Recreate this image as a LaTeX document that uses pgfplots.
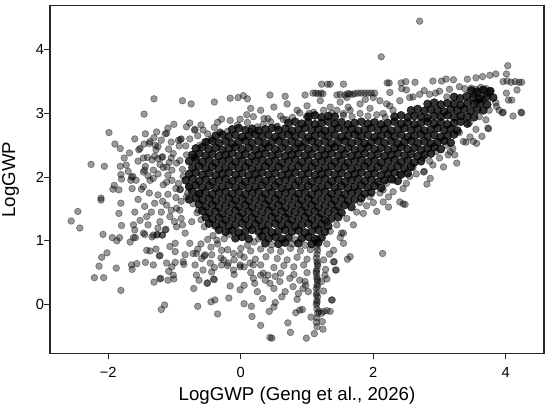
\documentclass[border=0pt]{standalone}
\usepackage{pgfplots}
\pgfplotsset{compat=1.18}
\usepackage{fontspec}
\setmainfont{Liberation Sans}
\begin{document}
\begin{tikzpicture}
\path[use as bounding box] (-37.5pt,-41.5pt) rectangle (375pt,265.3pt);
\begin{axis}[
  at={(0pt,0pt)}, anchor=south west,
  scale only axis, width=370.5pt, height=261pt,
  xmin=-2.88, xmax=4.577, ymin=-0.775, ymax=4.693,
  axis line style={black!85, line width=0.8pt},
  xtick={-2,0,2,4}, xticklabels={−2,0,2,4},
  ytick={0,1,2,3,4}, yticklabels={{0\hspace{6pt}},{1\hspace{6pt}},{2\hspace{6pt}},{3\hspace{6pt}},{4\hspace{6pt}}},
  tick align=outside, tick pos=left,
  major tick length=4.3pt,
  every tick/.style={black!85, line width=0.8pt},
  tick label style={font=\fontsize{11}{13}\selectfont, inner sep=0pt},
  xticklabel shift=5.4pt,
  xlabel={LogGWP (Geng et al., 2026)}, ylabel={LogGWP},
  label style={font=\fontsize{14}{16}\selectfont},
  xlabel style={at={(axis description cs:0.5,0)}, anchor=north, yshift=-24.6pt, inner sep=0pt},
  ylabel style={at={(axis description cs:-0.0621,0.5)}, anchor=south, inner sep=0pt},
]
\addplot[only marks, mark=*, mark size=3.05pt, mark options={draw=black, fill=black, draw opacity=0.8, fill opacity=0.8, line width=0.4pt}] coordinates {
(3.48,3.36)(3.57,3.34)(3.66,3.37)(3.76,3.35)
(3.22,3.26)(3.31,3.24)(3.41,3.27)(3.51,3.25)(3.61,3.23)(3.71,3.26)(3.81,3.25)
(2.82,3.15)(2.92,3.17)(3.02,3.14)(3.12,3.16)(3.22,3.15)(3.32,3.13)(3.42,3.16)(3.52,3.15)(3.62,3.17)(3.72,3.14)
(2.57,3.05)(2.67,3.07)(2.77,3.04)(2.87,3.06)(2.97,3.05)(3.07,3.03)(3.17,3.06)(3.27,3.05)(3.37,3.07)(3.47,3.04)(3.57,3.06)(3.66,3.05)
(1.02,2.95)(1.12,2.97)(1.22,2.94)(1.32,2.96)(1.42,2.95)(2.32,2.95)(2.42,2.97)(2.52,2.94)(2.62,2.96)(2.72,2.95)(2.82,2.93)(2.92,2.96)(3.02,2.95)(3.12,2.97)(3.22,2.94)(3.32,2.96)(3.42,2.95)(3.52,2.94)
(0.72,2.85)(0.82,2.87)(0.92,2.84)(1.02,2.86)(1.12,2.83)(1.22,2.85)(1.32,2.87)(1.42,2.84)(1.52,2.86)(1.62,2.83)(1.72,2.85)(1.82,2.87)(1.92,2.84)(2.02,2.86)(2.12,2.83)(2.22,2.85)(2.32,2.87)(2.42,2.84)(2.52,2.86)(2.62,2.83)(2.72,2.85)(2.82,2.87)(2.92,2.84)(3.02,2.86)(3.12,2.83)(3.22,2.85)(3.32,2.87)(3.42,2.84)
(-0.13,2.75)(-0.03,2.77)(0.07,2.74)(0.17,2.76)(0.27,2.73)(0.37,2.75)(0.47,2.77)(0.57,2.74)(0.67,2.76)(0.77,2.73)(0.87,2.75)(0.97,2.77)(1.07,2.74)(1.17,2.76)(1.27,2.73)(1.37,2.75)(1.47,2.77)(1.57,2.74)(1.67,2.76)(1.77,2.73)(1.87,2.75)(1.97,2.77)(2.07,2.74)(2.17,2.76)(2.27,2.73)(2.37,2.75)(2.47,2.77)(2.57,2.74)(2.67,2.76)(2.77,2.73)(2.87,2.75)(2.97,2.77)(3.07,2.74)(3.17,2.76)(3.27,2.73)
(-0.38,2.65)(-0.28,2.67)(-0.18,2.64)(-0.08,2.66)(0.02,2.63)(0.12,2.65)(0.22,2.67)(0.32,2.64)(0.42,2.66)(0.52,2.63)(0.62,2.65)(0.72,2.67)(0.82,2.64)(0.92,2.66)(1.02,2.63)(1.12,2.65)(1.22,2.67)(1.32,2.64)(1.42,2.66)(1.52,2.63)(1.62,2.65)(1.72,2.67)(1.82,2.64)(1.92,2.66)(2.02,2.63)(2.12,2.65)(2.22,2.67)(2.32,2.64)(2.42,2.66)(2.52,2.63)(2.62,2.65)(2.72,2.67)(2.82,2.64)(2.92,2.66)(3.02,2.63)(3.12,2.65)(3.22,2.67)
(-0.53,2.55)(-0.43,2.57)(-0.33,2.54)(-0.23,2.56)(-0.13,2.53)(-0.03,2.55)(0.07,2.57)(0.17,2.54)(0.27,2.56)(0.37,2.53)(0.47,2.55)(0.57,2.57)(0.67,2.54)(0.77,2.56)(0.87,2.53)(0.97,2.55)(1.07,2.57)(1.17,2.54)(1.27,2.56)(1.37,2.53)(1.47,2.55)(1.57,2.57)(1.67,2.54)(1.77,2.56)(1.87,2.53)(1.97,2.55)(2.07,2.57)(2.17,2.54)(2.27,2.56)(2.37,2.53)(2.47,2.55)(2.57,2.57)(2.67,2.54)(2.77,2.56)(2.87,2.53)(2.97,2.55)(3.07,2.57)(3.17,2.54)
(-0.68,2.45)(-0.58,2.47)(-0.48,2.44)(-0.38,2.46)(-0.28,2.43)(-0.18,2.45)(-0.08,2.47)(0.02,2.44)(0.12,2.46)(0.22,2.43)(0.32,2.45)(0.42,2.47)(0.52,2.44)(0.62,2.46)(0.72,2.43)(0.82,2.45)(0.92,2.47)(1.02,2.44)(1.12,2.46)(1.22,2.43)(1.32,2.45)(1.42,2.47)(1.52,2.44)(1.62,2.46)(1.72,2.43)(1.82,2.45)(1.92,2.47)(2.02,2.44)(2.12,2.46)(2.22,2.43)(2.32,2.45)(2.42,2.47)(2.52,2.44)(2.62,2.46)(2.72,2.43)(2.82,2.45)(2.92,2.47)(3.02,2.44)
(-0.73,2.35)(-0.63,2.37)(-0.53,2.34)(-0.43,2.36)(-0.33,2.33)(-0.23,2.35)(-0.13,2.37)(-0.03,2.34)(0.07,2.36)(0.17,2.33)(0.27,2.35)(0.37,2.37)(0.47,2.34)(0.57,2.36)(0.67,2.33)(0.77,2.35)(0.87,2.37)(0.97,2.34)(1.07,2.36)(1.17,2.33)(1.27,2.35)(1.37,2.37)(1.47,2.34)(1.57,2.36)(1.67,2.33)(1.77,2.35)(1.87,2.37)(1.97,2.34)(2.07,2.36)(2.17,2.33)(2.27,2.35)(2.37,2.37)(2.47,2.34)(2.57,2.36)(2.67,2.33)(2.77,2.35)(2.87,2.37)
(-0.78,2.25)(-0.68,2.27)(-0.58,2.24)(-0.48,2.26)(-0.38,2.23)(-0.28,2.25)(-0.18,2.27)(-0.08,2.24)(0.02,2.26)(0.12,2.23)(0.22,2.25)(0.32,2.27)(0.42,2.24)(0.52,2.26)(0.62,2.23)(0.72,2.25)(0.82,2.27)(0.92,2.24)(1.02,2.26)(1.12,2.23)(1.22,2.25)(1.32,2.27)(1.42,2.24)(1.52,2.26)(1.62,2.23)(1.72,2.25)(1.82,2.27)(1.92,2.24)(2.02,2.26)(2.12,2.23)(2.22,2.25)(2.32,2.27)(2.42,2.24)(2.52,2.26)(2.62,2.23)(2.72,2.25)
(-0.73,2.15)(-0.63,2.17)(-0.53,2.14)(-0.43,2.16)(-0.33,2.13)(-0.23,2.15)(-0.13,2.17)(-0.03,2.14)(0.07,2.16)(0.17,2.13)(0.27,2.15)(0.37,2.17)(0.47,2.14)(0.57,2.16)(0.67,2.13)(0.77,2.15)(0.87,2.17)(0.97,2.14)(1.07,2.16)(1.17,2.13)(1.27,2.15)(1.37,2.17)(1.47,2.14)(1.57,2.16)(1.67,2.13)(1.77,2.15)(1.87,2.17)(1.97,2.14)(2.07,2.16)(2.17,2.13)(2.27,2.15)(2.37,2.17)(2.47,2.14)(2.57,2.16)
(-0.78,2.05)(-0.68,2.07)(-0.58,2.04)(-0.48,2.06)(-0.38,2.03)(-0.28,2.05)(-0.18,2.07)(-0.08,2.04)(0.02,2.06)(0.12,2.03)(0.22,2.05)(0.32,2.07)(0.42,2.04)(0.52,2.06)(0.62,2.03)(0.72,2.05)(0.82,2.07)(0.92,2.04)(1.02,2.06)(1.12,2.03)(1.22,2.05)(1.32,2.07)(1.42,2.04)(1.52,2.06)(1.62,2.03)(1.72,2.05)(1.82,2.07)(1.92,2.04)(2.02,2.06)(2.12,2.03)(2.22,2.05)(2.32,2.07)(2.42,2.04)(2.52,2.06)
(-0.83,1.95)(-0.73,1.97)(-0.63,1.94)(-0.53,1.96)(-0.43,1.93)(-0.33,1.95)(-0.23,1.97)(-0.13,1.94)(-0.03,1.96)(0.07,1.93)(0.17,1.95)(0.27,1.97)(0.37,1.94)(0.47,1.96)(0.57,1.93)(0.67,1.95)(0.77,1.97)(0.87,1.94)(0.97,1.96)(1.07,1.93)(1.17,1.95)(1.27,1.97)(1.37,1.94)(1.47,1.96)(1.57,1.93)(1.67,1.95)(1.77,1.97)(1.87,1.94)(1.97,1.96)(2.07,1.93)(2.17,1.95)(2.27,1.97)(2.37,1.94)
(-0.78,1.85)(-0.68,1.87)(-0.58,1.84)(-0.48,1.86)(-0.38,1.83)(-0.28,1.85)(-0.18,1.87)(-0.08,1.84)(0.02,1.86)(0.12,1.83)(0.22,1.85)(0.32,1.87)(0.42,1.84)(0.52,1.86)(0.62,1.83)(0.72,1.85)(0.82,1.87)(0.92,1.84)(1.02,1.86)(1.12,1.83)(1.22,1.85)(1.32,1.87)(1.42,1.84)(1.52,1.86)(1.62,1.83)(1.72,1.85)(1.82,1.87)(1.92,1.84)(2.02,1.86)(2.12,1.83)
(-0.73,1.77)(-0.63,1.74)(-0.53,1.76)(-0.43,1.73)(-0.33,1.75)(-0.23,1.77)(-0.13,1.74)(-0.03,1.76)(0.07,1.73)(0.17,1.75)(0.27,1.77)(0.37,1.74)(0.47,1.76)(0.57,1.73)(0.67,1.75)(0.77,1.77)(0.87,1.74)(0.97,1.76)(1.07,1.73)(1.17,1.75)(1.27,1.77)(1.37,1.74)(1.47,1.76)(1.57,1.73)(1.67,1.75)(1.77,1.77)(1.87,1.74)(1.97,1.76)
(-0.78,1.65)(-0.68,1.67)(-0.58,1.64)(-0.48,1.66)(-0.38,1.63)(-0.28,1.65)(-0.18,1.67)(-0.08,1.64)(0.02,1.66)(0.12,1.63)(0.22,1.65)(0.32,1.67)(0.42,1.64)(0.52,1.66)(0.62,1.63)(0.72,1.65)(0.82,1.67)(0.92,1.64)(1.02,1.66)(1.12,1.63)(1.22,1.65)(1.32,1.67)(1.42,1.64)(1.52,1.66)(1.62,1.63)(1.72,1.65)(1.82,1.67)
(-0.63,1.57)(-0.53,1.54)(-0.43,1.56)(-0.33,1.53)(-0.23,1.55)(-0.13,1.57)(-0.03,1.54)(0.07,1.56)(0.17,1.53)(0.27,1.55)(0.37,1.57)(0.47,1.54)(0.57,1.56)(0.67,1.53)(0.77,1.55)(0.87,1.57)(0.97,1.54)(1.07,1.56)(1.17,1.53)(1.27,1.55)(1.37,1.57)(1.47,1.54)(1.57,1.56)(1.67,1.53)
(-0.58,1.47)(-0.48,1.44)(-0.38,1.46)(-0.28,1.43)(-0.18,1.45)(-0.08,1.47)(0.02,1.44)(0.12,1.46)(0.22,1.43)(0.32,1.45)(0.42,1.47)(0.52,1.44)(0.62,1.46)(0.72,1.43)(0.82,1.45)(0.92,1.47)(1.02,1.44)(1.12,1.46)(1.22,1.43)(1.32,1.45)(1.42,1.47)(1.52,1.44)
(-0.53,1.37)(-0.43,1.34)(-0.33,1.36)(-0.23,1.33)(-0.13,1.35)(-0.03,1.37)(0.07,1.34)(0.17,1.36)(0.27,1.33)(0.37,1.35)(0.47,1.37)(0.57,1.34)(0.67,1.36)(0.77,1.33)(0.87,1.35)(0.97,1.37)(1.07,1.34)(1.17,1.36)(1.27,1.33)(1.37,1.35)(1.47,1.37)
(-0.48,1.27)(-0.38,1.24)(-0.28,1.26)(-0.18,1.23)(-0.08,1.25)(0.02,1.27)(0.12,1.24)(0.22,1.26)(0.32,1.23)(0.42,1.25)(0.52,1.27)(0.62,1.24)(0.72,1.26)(0.82,1.23)(0.92,1.25)(1.02,1.27)(1.12,1.24)(1.22,1.26)(1.32,1.23)
(-0.33,1.17)(-0.23,1.14)(-0.13,1.16)(-0.03,1.13)(0.07,1.15)(0.17,1.17)(0.27,1.14)(0.37,1.16)(0.47,1.13)(0.57,1.15)(0.67,1.17)(0.77,1.14)(0.87,1.16)(0.97,1.13)(1.07,1.15)(1.17,1.17)(1.27,1.14)
(-0.08,1.04)(0.02,1.06)(0.12,1.03)(0.32,1.07)(0.42,1.04)(0.52,1.06)(0.62,1.03)(0.72,1.05)(0.92,1.04)(1.02,1.06)(1.12,1.03)(1.22,1.05)
(0.37,0.96)(0.57,0.95)(0.67,0.97)(0.87,0.96)(1.07,0.95)(1.17,0.97)
};
\addplot[only marks, mark=*, mark size=2.5pt, mark options={draw=black, fill=black, draw opacity=0.4, fill opacity=0.4, line width=0.5pt}] coordinates {
(-1.31,3.23)(-0.88,3.20)(-0.75,3.15)(-1.46,2.99)(-1.99,2.70)(-1.01,2.83)(-1.10,2.77)(-1.27,2.71)(-1.44,2.68)(-1.14,2.68)(-1.90,2.52)(-1.82,2.45)(-1.68,2.38)(-1.54,2.43)(-1.46,2.52)(-1.38,2.53)(-1.31,2.62)(-1.29,2.50)(-1.28,2.43)(-1.09,2.44)(-1.76,2.30)(-1.41,2.31)(-1.34,2.27)(-1.25,2.29)(-1.18,2.32)(-1.08,2.23)(-2.26,2.20)(-2.06,2.17)(-1.82,2.17)(-1.73,2.19)(-1.44,2.17)(-1.47,2.08)(-1.81,2.04)(-1.80,1.97)(-1.65,2.00)(-1.66,1.95)(-1.91,1.87)(-1.93,1.81)(-1.84,1.80)(-1.64,1.82)(-1.50,1.81)(-2.11,1.67)(-0.94,2.58)(-0.82,2.79)(-0.77,2.85)(-0.93,2.49)(-0.83,2.49)(-0.77,2.60)(-1.17,2.15)(-1.37,1.95)(-1.70,2.09)(-1.63,2.01)
(-2.46,1.46)(-2.56,1.31)(-2.43,1.20)(-2.11,1.64)(-1.81,1.59)(-1.84,1.43)(-1.80,1.24)(-1.62,1.25)(-1.60,1.17)(-2.08,1.10)(-1.94,1.05)(-1.87,1.00)(-1.83,1.05)(-1.67,0.98)(-1.62,1.05)(-1.59,1.05)(-1.45,1.10)(-1.34,1.06)(-1.18,1.09)(-2.02,0.81)(-2.10,0.74)(-2.14,0.60)(-1.88,0.57)(-2.21,0.42)(-2.07,0.42)(-1.81,0.22)(-1.64,0.55)(-1.57,0.64)(-1.44,0.66)(-1.32,0.62)(-1.37,0.84)(-1.23,0.76)(-1.22,0.77)(-1.28,0.87)(-1.09,0.52)(-1.04,0.59)(-0.99,0.66)(-0.86,0.63)(-1.31,0.35)(-1.22,0.40)(-1.21,0.41)(-1.10,0.38)(-1.01,0.40)(-1.15,-0.01)(-1.20,-0.08)(-0.71,0.25)(-0.65,-0.03)(-0.69,0.62)(-0.67,0.46)(-1.42,1.38)(-1.19,1.09)(-1.07,0.91)(-0.99,0.83)(-0.77,0.96)
(-0.51,0.33)(-0.50,0.34)(-0.40,0.39)(-0.41,0.40)(-0.45,0.04)(-0.39,0.07)(-0.35,-0.15)(-0.18,0.10)(-0.16,0.29)(-0.01,0.23)(0.05,0.01)(0.16,-0.03)(0.17,-0.19)(0.30,-0.33)(0.33,0.09)(0.43,-0.11)(0.47,-0.53)(0.52,0.03)(0.71,-0.29)(0.75,-0.44)(0.99,-0.53)(1.11,-0.46)(1.06,-0.20)(1.24,-0.39)(1.23,-0.27)(1.18,-0.11)(1.25,-0.11)(1.30,-0.10)(1.35,-0.11)(1.38,0.07)(1.43,0.54)(1.41,0.67)(1.25,0.21)(0.83,-0.13)(0.89,-0.09)(0.93,-0.08)(-0.57,0.54)(-0.11,0.54)(-0.01,0.62)(0.14,0.65)(0.21,0.33)(0.37,0.38)(0.44,0.33)(0.59,0.36)(0.67,0.20)(0.79,0.28)(0.87,0.17)(0.94,0.25)(1.02,0.20)(0.41,0.46)(0.52,0.44)(0.74,0.41)(0.89,0.38)(0.97,0.36)(1.27,0.46)(1.22,0.36)(-0.67,0.80)(-0.54,0.78)(-0.46,0.65)(-0.26,0.70)(-0.19,0.65)(-0.01,0.78)
(-0.63,0.38)(-0.44,0.51)(-0.29,0.62)(-1.02,0.46)(-0.87,0.67)(-1.12,0.65)(-1.42,0.85)(-1.65,0.62)(-1.47,1.12)(-1.40,1.25)(-1.27,1.09)(-1.26,1.10)(-0.99,0.96)(-0.84,0.78)(-0.72,0.80)(-0.59,0.72)(-0.44,0.78)(-0.29,0.85)(-0.11,0.80)(-0.01,0.59)(0.19,0.62)(0.19,0.41)(0.34,0.49)(-0.36,1.01)
(2.14,0.80)(1.65,0.75)(1.61,0.71)(1.44,0.54)(1.40,0.67)(1.34,0.79)(1.37,0.07)(1.22,-0.14)(0.44,-0.52)(0.50,-0.04)(2.45,1.58)(2.23,1.53)(2.15,1.61)(2.05,1.46)(1.55,0.96)(1.52,1.12)
(1.15,-0.35)(1.14,-0.28)(1.15,-0.21)(1.16,-0.14)(1.15,-0.07)(1.14,0.00)(1.15,0.06)(1.16,0.12)(1.15,0.18)(1.14,0.25)(1.15,0.31)(1.16,0.37)(1.15,0.43)(1.14,0.49)(1.15,0.55)(1.16,0.61)(1.15,0.67)(1.14,0.73)(1.15,0.79)(1.16,0.85)(1.15,0.03)(1.14,0.15)(1.16,0.28)(1.15,0.40)(1.14,0.52)(1.16,0.64)(1.15,0.90)(1.14,0.97)(1.15,1.02)
(2.70,4.45)(2.12,3.89)(1.55,3.46)(1.61,3.31)(1.64,3.31)(1.77,3.32)(1.82,3.32)(1.87,3.32)(1.92,3.32)(1.97,3.32)(2.02,3.32)(2.21,3.48)(2.24,3.48)(2.25,3.33)(2.42,3.48)(2.49,3.50)(2.63,3.49)(2.43,3.39)(2.90,3.51)(3.03,3.51)(3.10,3.54)(3.21,3.53)(3.42,3.54)(3.55,3.56)(3.65,3.58)(3.76,3.60)(3.85,3.62)(4.03,3.75)(4.01,3.62)(3.96,3.50)(4.02,3.51)(4.08,3.49)(4.14,3.50)(4.20,3.49)(4.24,3.49)(4.17,3.37)(4.23,3.02)(4.11,2.96)(3.96,3.02)(3.74,2.76)(4.04,3.21)(3.86,3.11)(3.38,3.39)(2.77,3.36)(2.94,3.32)(3.11,3.26)(2.60,3.26)(2.50,3.37)(1.35,3.46)(1.45,3.29)
(3.48,3.40)(3.55,3.38)(3.62,3.41)(3.70,3.39)(3.78,3.36)(3.52,3.30)(3.60,3.32)(3.68,3.30)(3.75,3.31)(3.58,3.23)(3.66,3.22)
(1.22,3.46)(1.31,3.46)(0.67,3.27)(0.44,3.29)(0.97,3.29)(1.09,3.32)(1.13,3.32)(1.17,3.31)(1.21,3.32)(1.24,3.31)(1.50,3.30)(1.57,3.29)(1.68,3.30)(1.72,3.31)(0.64,2.91)(0.69,2.90)(3.06,2.16)(2.90,2.19)(2.81,1.89)(2.86,1.98)(2.76,2.08)(2.77,2.09)(3.23,2.35)(3.26,2.22)(3.16,2.40)(3.56,2.53)(3.73,2.77)(3.46,2.63)(4.24,3.01)(3.95,3.01)
(3.64,2.64)(3.51,2.56)(3.36,2.56)(3.13,2.35)(2.55,2.01)(2.45,1.82)(2.48,1.57)(2.40,1.61)(2.30,1.77)(2.23,1.69)(2.15,1.80)(1.95,1.69)(1.85,1.43)(1.70,1.25)(1.55,1.12)(4.09,3.21)(4.01,3.32)(3.56,3.18)
(-0.40,3.18)(-0.16,3.24)(-0.04,3.25)(0.04,3.28)(0.10,3.23)(-0.70,2.74)(-0.69,2.75)(-0.57,2.74)(-0.32,2.70)(-0.31,2.71)(-0.29,2.91)(-0.16,2.89)(-0.01,2.91)(0.09,2.98)(0.19,2.95)(0.41,2.92)(0.54,2.79)(0.55,2.80)(0.34,2.83)(0.89,3.01)(0.99,2.95)(1.03,3.00)(1.37,3.00)(-1.12,2.69)(-0.91,2.59)(-0.90,2.60)(-0.69,2.31)(-0.71,2.31)(-0.62,2.50)(-0.51,2.56)
(-1.47,2.30)(-1.30,2.33)(-1.19,2.31)(-1.45,2.11)(-1.32,2.11)(-1.12,2.16)(-1.04,2.11)(-1.47,1.85)(-1.32,1.98)(-1.17,1.88)(-1.04,1.95)(-0.94,1.90)(-0.87,2.01)(-1.45,1.54)(-1.30,1.59)(-1.12,1.56)(-0.97,1.51)(-1.22,1.30)(-1.07,1.38)(-0.92,1.48)(-0.82,1.69)(-1.32,1.09)(-1.14,1.17)(-1.13,1.18)(-0.97,1.22)(-0.84,1.12)(-0.74,1.30)(-0.64,1.48)(-0.62,1.75)(-0.92,1.80)(-0.91,1.81)(-0.77,1.85)(-0.92,2.26)(-0.82,2.35)(-1.02,2.37)(-1.25,2.48)(-1.37,2.56)(-1.52,2.45)
(-1.40,2.02)(-1.25,2.05)(-1.10,2.03)(-0.97,2.22)(-1.22,2.20)(-1.38,1.75)(-1.25,1.72)(-1.10,1.73)(-0.98,1.68)(-1.35,1.45)(-1.20,1.45)(-1.05,1.48)(-0.90,1.35)(-1.25,1.20)(-1.00,1.30)(-0.88,1.25)(-1.55,1.65)(-1.58,1.95)(-1.55,2.25)(-1.60,1.45)(-1.52,1.32)(-1.12,1.92)(-0.98,1.82)(-0.90,1.62)(-1.18,1.62)(-1.05,2.30)(-0.88,2.12)(-1.60,2.60)(-1.20,2.58)(-1.05,2.55)
(-0.50,2.68)(-0.40,2.78)(-0.20,2.72)(-0.05,2.82)(0.10,2.86)(0.25,2.79)(0.45,2.87)(0.60,2.96)(0.78,2.94)(-0.60,2.82)(-0.35,2.86)(0.15,2.72)(0.35,2.92)(-0.45,2.60)(-0.65,2.65)
(-0.20,0.86)(0.00,0.88)(0.15,0.84)(0.30,0.87)(0.45,0.85)(0.60,0.83)(0.75,0.88)(0.90,0.84)(1.05,0.86)
(-0.30,0.73)(-0.10,0.70)(0.05,0.74)(0.22,0.71)(0.38,0.75)(0.55,0.72)(0.70,0.70)(0.85,0.74)(1.00,0.71)
(-0.40,0.58)(-0.20,0.61)(0.05,0.59)(0.30,0.62)(0.50,0.58)(0.65,0.61)(0.80,0.59)(0.95,0.62)
(-0.10,0.47)(0.15,0.50)(0.30,0.46)(0.60,0.49)(0.80,0.47)(1.00,0.50)
(-0.60,0.95)(-0.50,1.02)(-0.65,0.87)(-0.45,0.90)(-0.35,0.95)(-0.55,0.76)
(0.05,0.30)(0.25,0.20)(0.50,0.25)(0.62,0.12)(0.85,0.08)(0.98,0.30)
(1.30,1.30)(1.45,1.25)(1.60,1.35)(1.35,1.15)(1.50,1.05)(1.30,0.95)(1.40,0.85)(1.25,0.70)(1.28,0.55)(1.30,0.40)
(2.20,1.90)(2.40,2.05)(2.60,2.15)(2.75,2.30)(2.95,2.40)(3.10,2.50)(3.30,2.70)(3.45,2.85)(3.60,2.95)(3.75,3.05)(3.85,3.17)(2.00,1.60)(1.90,1.55)(2.30,1.95)(1.75,1.45)(1.80,1.60)(2.10,1.75)(2.50,1.90)(2.65,2.05)(2.85,2.25)(3.00,2.30)(3.20,2.45)(3.40,2.55)(3.55,2.75)(3.70,2.90)(3.90,3.05)
(0.15,3.08)(0.30,3.05)(0.50,3.10)(0.70,3.15)(0.85,3.05)(1.00,3.12)(1.10,3.02)(1.20,3.20)(1.35,3.10)(1.50,3.18)(1.60,3.25)(1.65,3.05)(1.80,3.15)(1.95,3.08)(2.00,3.25)(2.10,3.20)(2.25,3.12)(2.40,3.20)(2.55,3.25)(2.70,3.30)(2.85,3.30)(3.00,3.35)(3.15,3.38)(3.30,3.42)(2.30,3.05)(2.15,3.00)(1.55,3.00)(1.25,3.05)
(1.55,2.97)(1.68,2.95)(1.80,3.00)(1.92,2.96)(2.05,2.98)(2.18,2.94)(1.62,3.10)(1.88,3.22)(2.20,3.15)(1.45,3.05)
(-0.80,1.75)(-0.72,1.58)(-0.66,1.44)(-0.60,1.33)(-0.55,1.22)(-0.42,1.08)(-0.25,1.03)(-0.18,1.10)(0.20,0.98)(0.27,1.03)(0.10,0.93)(0.47,0.94)(0.78,0.95)(0.82,1.02)(0.97,0.93)
};
\end{axis}
\draw[black!85, line width=0.8pt] (0pt,261pt) -- (370.5pt,261pt) -- (370.5pt,0pt);
\end{tikzpicture}
\end{document}
